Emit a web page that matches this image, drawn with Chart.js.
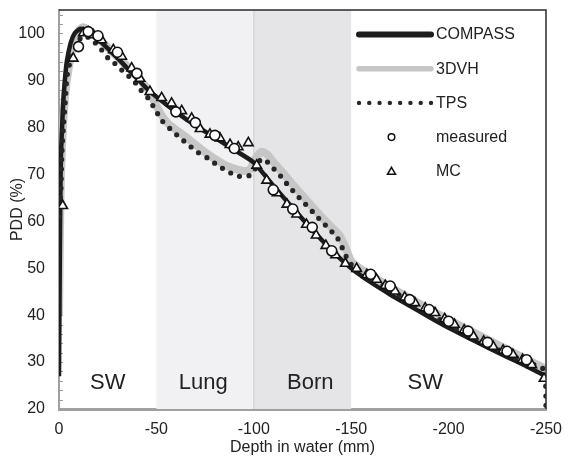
<!DOCTYPE html>
<html>
<head>
<meta charset="utf-8">
<script src="https://cdn.jsdelivr.net/npm/chart.js@4.4.1/dist/chart.umd.min.js"></script>
<style>
  html, body { margin: 0; padding: 0; background: #fff; }
  #wrap { width: 568px; height: 463px; }
</style>
</head>
<body>
<div id="wrap"><canvas id="pdd" width="568" height="463"></canvas></div>
<script>
// depth in water (mm) and PDD (%)
const compassDepth = [0, -0.3, -0.6, -1, -2, -3, -4, -6, -8, -11, -15, -20, -25, -30, -35, -40, -45, -50,
  -60, -70, -80, -90, -100, -110, -120, -130, -140, -150, -160, -170, -180, -190, -200, -210, -220, -230, -240, -250];
const compassPdd = [27, 45, 62, 74, 84, 90, 94, 98, 100, 101, 100.5, 98.8, 96.8, 94.8, 92.6, 90.5, 88.3, 86.5,
  83.3, 80.4, 77.8, 75.2, 72.5, 67.6, 62.8, 58.2, 53.8, 50, 47, 44.4, 42, 39.6, 37.3, 35.2, 33.1, 31.1, 29.1, 27];

const dvhDepth = [0, -0.5, -1, -2, -3, -4, -6, -8, -10, -12, -15, -20, -25, -30, -35, -40, -45, -48, -52, -56,
  -60, -65, -70, -75, -80, -85, -90, -95, -98, -101, -104, -107, -110, -115, -120, -125, -130, -135, -140, -144,
  -147, -150, -155, -160, -170, -180, -190, -200, -210, -220, -230, -240, -250];
const dvhPdd = [40, 58, 70, 80, 86, 90, 95, 98.5, 100.5, 101.3, 100.8, 99, 97, 95, 93, 90.8, 88.5, 86.3, 83, 80.8,
  79.5, 78, 76.3, 74.7, 73.3, 72, 71.2, 70.7, 71, 73.5, 74.8, 74.2, 72.6, 70.3, 67.8, 65.5, 63.1, 60.8, 58.7, 57,
  54.5, 51.5, 49.8, 48.5, 46, 43.6, 41.3, 39, 36.9, 34.8, 32.7, 30.6, 28.5];

const tpsDepth = [0, -0.5, -1, -1.5, -2.2, -3.1, -3.9, -4.8, -6.5, -9, -12, -15.9, -20.7, -25.3, -29.6, -33.9,
  -38.1, -41.9, -45.8, -49.8, -52.7, -57, -61.8, -66.4, -71.2, -76.1, -81.5, -86.6, -92, -97.5, -100, -102,
  -105, -109.5, -113.8, -117.7, -122, -125.9, -130.2, -134.5, -138.8, -143, -147.3, -150, -160, -170, -180,
  -190, -200, -210, -220, -230, -240, -249.5, -250];
const tpsPdd = [61, 64, 67, 74.7, 79.7, 84.7, 90, 92.6, 94.7, 97.5, 99.5, 99, 97.1, 94.7, 93.3, 91.5,
  90.1, 88, 86.2, 83.5, 81.5, 79.7, 77.9, 76.3, 74.7, 73.5, 71.9, 70.6, 69.6, 69.7, 70.5, 72.5,
  73.3, 71.5, 69.6, 67.6, 65.6, 63.9, 62, 60.1, 58.3, 56.4, 52.6, 50.8, 48, 45.4, 42.9,
  40.3, 38, 35.8, 33.7, 31.8, 30, 28.2, 20];

const measuredDepth = [-10, -15, -20, -30, -40, -60, -70, -80, -90, -110, -120, -130, -140,
  -160, -170, -180, -190, -200, -210, -220, -230, -240];
const measuredPdd = [97.2, 100.4, 99.5, 96, 91.5, 83.3, 81, 78.3, 75.5, 66.7, 62.6, 58.7, 53.7,
  48.7, 46.2, 43.3, 41.2, 38.7, 36.6, 34.2, 32.3, 30.5];

const mcDepth = [-1.9, -7.3, -12.5, -15, -17.6, -21.9, -27.9, -32.2, -37.3, -41.6, -46.7, -52.7, -57.8, -63,
  -68.1, -72.4, -77.5, -82.6, -87.8, -92, -97.2, -101.5, -106.6, -112, -117, -122, -127, -132, -137, -142, -147,
  -152.8, -158, -163, -167.5, -172.5, -177.5, -182.7, -188, -193, -198, -203, -208, -212.7, -218, -222.9, -228,
  -233, -238, -242.7, -249];
const mcPdd = [63.3, 94.7, 100.1, 100.3, 99.7, 98.6, 96.5, 95.1, 92.6, 90.4, 87.6, 86.3, 85.1, 83.5,
  81.9, 79.7, 78.5, 77.7, 76.3, 75.8, 76.7, 71.9, 68.7, 66, 63.6, 61.5, 59.3, 57, 54.8, 52.8, 51,
  49.9, 48.6, 47.6, 46.3, 45.1, 43.8, 42.6, 41.5, 40.5, 39.2, 38, 36.8, 35.5, 34.4, 33.3, 32.5,
  31.6, 30.5, 29.4, 26.5];

const xTicks = [0, -50, -100, -150, -200, -250];
const yTicks = [20, 30, 40, 50, 60, 70, 80, 90, 100];

// tissue regions along depth
const regionNames = ['SW', 'Lung', 'Born', 'SW'];
const regionLabelX = [-25, -74, -129, -188];
const lungRange = [-50, -100];
const boneRange = [-100, -150];

const FONT = '"Liberation Sans", Arial, Helvetica, sans-serif';

function pts(xs, ys) {
  return xs.map((x, i) => ({ x: x, y: ys[i] }));
}

const regionsPlugin = {
  id: 'regions',
  beforeDatasetsDraw(chart) {
    const { ctx, chartArea: a, scales: { x, y } } = chart;
    ctx.save();
    ctx.fillStyle = '#f1f1f3';
    ctx.fillRect(x.getPixelForValue(lungRange[0]), a.top, x.getPixelForValue(lungRange[1]) - x.getPixelForValue(lungRange[0]), a.bottom - a.top);
    ctx.fillStyle = '#e5e5e7';
    ctx.fillRect(x.getPixelForValue(boneRange[0]), a.top, x.getPixelForValue(boneRange[1]) - x.getPixelForValue(boneRange[0]), a.bottom - a.top);
    ctx.strokeStyle = '#d6d6d8';
    ctx.lineWidth = 1.5;
    ctx.beginPath();
    ctx.moveTo(x.getPixelForValue(-100), a.top);
    ctx.lineTo(x.getPixelForValue(-100), a.bottom);
    ctx.stroke();

    ctx.fillStyle = '#222';
    ctx.font = '22px ' + FONT;
    ctx.textAlign = 'center';
    ctx.textBaseline = 'middle';
    regionNames.forEach((name, i) => {
      ctx.fillText(name, x.getPixelForValue(regionLabelX[i]), y.getPixelForValue(25.6));
    });

    // minor ticks on the left axis
    ctx.strokeStyle = '#9a9a9a';
    ctx.lineWidth = 1;
    for (let v = 22; v < 105; v += 2) {
      const py = Math.round(y.getPixelForValue(v)) + 0.5;
      ctx.beginPath();
      ctx.moveTo(a.left, py);
      ctx.lineTo(a.left + 4, py);
      ctx.stroke();
    }
    ctx.restore();
  },
  afterDraw(chart) {
    const { ctx, chartArea: a } = chart;
    ctx.save();
    // frame top and right
    ctx.strokeStyle = '#2a2a2a';
    ctx.lineWidth = 1.5;
    ctx.beginPath();
    ctx.moveTo(a.left, a.top);
    ctx.lineTo(a.right, a.top);
    ctx.lineTo(a.right, a.bottom);
    ctx.stroke();

    // legend
    const x1 = a.right - 187, x2 = a.right - 115, tx = a.right - 110, mx = a.right - 154.5;
    const rowY = i => a.top + 24.5 + i * 34.2;
    ctx.lineCap = 'round';
    chart.data.datasets.forEach((ds, i) => {
      const yy = rowY(i);
      if (ds.label === 'COMPASS' || ds.label === '3DVH') {
        ctx.strokeStyle = ds.borderColor;
        ctx.lineWidth = ds.label === 'COMPASS' ? 6 : 5.5;
        ctx.beginPath();
        ctx.moveTo(x1, yy);
        ctx.lineTo(x2, yy);
        ctx.stroke();
      } else if (ds.label === 'TPS') {
        ctx.fillStyle = ds.borderColor;
        for (let k = 0; k < 8; k++) {
          ctx.beginPath();
          ctx.arc(x1 + k * (x2 - x1) / 7, yy, 2.2, 0, Math.PI * 2);
          ctx.fill();
        }
      } else if (ds.label === 'measured') {
        ctx.strokeStyle = '#111';
        ctx.lineWidth = 1.5;
        ctx.beginPath();
        ctx.arc(mx, yy, 3.3, 0, Math.PI * 2);
        ctx.stroke();
      } else {
        ctx.strokeStyle = '#111';
        ctx.lineWidth = 1.5;
        ctx.lineJoin = 'miter';
        ctx.beginPath();
        ctx.moveTo(mx, yy - 4);
        ctx.lineTo(mx + 4, yy + 3);
        ctx.lineTo(mx - 4, yy + 3);
        ctx.closePath();
        ctx.stroke();
      }
      ctx.fillStyle = '#222';
      ctx.font = '16px ' + FONT;
      ctx.textAlign = 'left';
      ctx.textBaseline = 'middle';
      ctx.fillText(ds.label, tx, yy + 0.5);
    });
    ctx.restore();
  }
};

new Chart(document.getElementById('pdd'), {
  type: 'line',
  data: {
    datasets: [
      {
        label: 'COMPASS',
        data: pts(compassDepth, compassPdd),
        borderColor: '#1c1c1c',
        borderWidth: 4.5,
        pointRadius: 0,
        tension: 0.2,
        order: 3
      },
      {
        label: '3DVH',
        data: pts(dvhDepth, dvhPdd),
        borderColor: '#c6c6c6',
        borderWidth: 8,
        pointRadius: 0,
        tension: 0.2,
        order: 4
      },
      {
        label: 'TPS',
        data: pts(tpsDepth, tpsPdd),
        borderColor: '#262626',
        borderWidth: 5.2,
        borderDash: [0, 9.5],
        borderCapStyle: 'round',
        pointRadius: 0,
        tension: 0.2,
        order: 2
      },
      {
        label: 'measured',
        data: pts(measuredDepth, measuredPdd),
        showLine: false,
        pointStyle: 'circle',
        pointRadius: 5,
        pointBorderWidth: 1.6,
        pointBorderColor: '#111',
        pointBackgroundColor: '#fff',
        order: 0
      },
      {
        label: 'MC',
        data: pts(mcDepth, mcPdd),
        showLine: false,
        pointStyle: 'triangle',
        pointRadius: 5.5,
        pointBorderWidth: 1.6,
        pointBorderColor: '#111',
        pointBackgroundColor: '#fff',
        order: 1
      }
    ]
  },
  options: {
    responsive: false,
    animation: false,
    devicePixelRatio: 1,
    layout: { padding: { top: 10, right: 22, left: 0, bottom: 0 } },
    plugins: {
      legend: { display: false },
      tooltip: { enabled: false }
    },
    scales: {
      x: {
        type: 'linear',
        min: -250,
        max: 0,
        reverse: true,
        afterBuildTicks: s => { s.ticks = xTicks.map(v => ({ value: v })); },
        afterFit: s => { s.height = 54; s.paddingLeft = 0; s.paddingRight = 0; },
        grid: { display: false, drawTicks: false },
        border: { display: true, color: '#a0a0a0', width: 3 },
        ticks: {
          color: '#222',
          padding: 11,
          font: { family: FONT, size: 16 },
          callback: v => String(v)
        },
        title: {
          display: true,
          text: 'Depth in water (mm)',
          color: '#222',
          font: { family: FONT, size: 16 },
          padding: { top: 0, bottom: 6 }
        }
      },
      y: {
        min: 20,
        max: 105,
        afterBuildTicks: s => { s.ticks = yTicks.map(v => ({ value: v })); },
        afterFit: s => { s.width = 59; s.paddingTop = 0; s.paddingBottom = 0; },
        grid: { display: false, drawTicks: false },
        border: { display: true, color: '#a0a0a0', width: 2 },
        ticks: {
          color: '#222',
          padding: 14,
          font: { family: FONT, size: 16 },
          callback: v => String(v)
        },
        title: {
          display: true,
          text: 'PDD (%)',
          color: '#222',
          font: { family: FONT, size: 16 },
          padding: { top: 8, bottom: 0 }
        }
      }
    }
  },
  plugins: [regionsPlugin]
});
</script>
</body>
</html>
